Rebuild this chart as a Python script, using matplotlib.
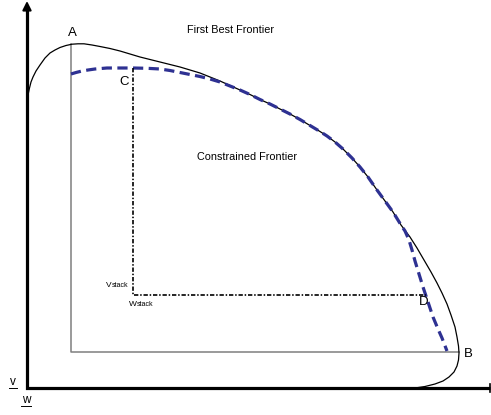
import matplotlib
matplotlib.use("Agg")
import matplotlib.pyplot as plt

plt.rcParams['font.family'] = ['Liberation Sans', 'DejaVu Sans']

# coordinates (x to the right, y downward)
first_best_x = [27.5, 28, 29.5, 31, 33, 36, 40, 45, 50, 55, 60, 66, 72, 78, 84,
                92, 100, 110, 120, 130, 140, 150, 160, 170, 180, 190, 200, 210,
                220, 230, 240, 250, 260, 270, 280, 290, 300, 310, 320, 327, 335,
                343, 352, 360, 368, 377, 385, 393, 401, 410, 417, 424, 431, 437,
                442, 447, 451, 455, 457, 458.5, 459, 458.5, 457, 454, 449, 443,
                435, 425, 415, 408]
first_best_y = [105, 95, 88, 82, 77, 71, 65, 58, 53, 50, 47.5, 45.5, 44.2, 43.8,
                43.8, 45, 46.5, 48.5, 51, 54, 57, 59.5, 62, 64.5, 67, 70, 73, 77,
                81, 85.5, 90, 94.5, 99.5, 104, 109, 114, 119.5, 125.5, 131.5, 136, 142,
                149, 158, 167, 177, 190, 201, 212, 225, 237, 248, 260, 272, 283,
                293, 304, 315, 327, 337, 346, 353, 360, 366, 372, 377, 381,
                384, 386.5, 388, 389]

constrained_x = [71, 76, 82, 88, 95, 107, 120, 133, 147, 160, 170, 180, 190, 200,
                 210, 220, 230, 240, 250, 260, 270, 280, 290, 300, 310, 320, 327,
                 335, 343, 352, 360, 368, 377, 385, 393, 401, 405, 409, 412, 415,
                 419, 423, 428, 433, 438, 442, 447]
constrained_y = [74, 72.5, 71, 70, 69, 68, 68, 68, 68.3, 69, 70.5, 72.5, 74.5, 76.5,
                 79, 82, 86, 90, 94.5, 99.5, 104, 109, 114, 119.5, 125.5, 131.5, 136,
                 142, 149, 158, 167, 177, 190, 201, 212, 225, 231, 240, 250, 261,
                 274, 287, 302, 317, 329, 338, 351]

# corner points of the boxes
A = (71, 44)
B = (459, 352)
origin = (71, 352)
C = (133, 68)
D = (426, 295)
stack = (133, 295)

axis_origin = (27, 388)
axis_top = 1
axis_right = 490

# underlined axis names and their positions
v_label = (13, 382)
w_label = (26, 400)

fig = plt.figure(figsize=(4.91, 4.15), dpi=100)
ax = fig.add_axes([0, 0, 1, 1])
ax.set_xlim(0, 491)
ax.set_ylim(415, 0)
ax.axis('off')

# main axes: one L-shaped stroke, arrow head on top, small bar at the right end
ax.plot([axis_origin[0], axis_origin[0], axis_right],
        [axis_top + 8, axis_origin[1], axis_origin[1]],
        color='black', lw=2.3, solid_joinstyle='miter', solid_capstyle='butt')
ax.annotate('', xy=(axis_origin[0], axis_top), xytext=(axis_origin[0], axis_top + 12),
            arrowprops=dict(arrowstyle='-|>', lw=1.5, color='black', mutation_scale=13,
                            shrinkA=0, shrinkB=0), annotation_clip=False)
ax.plot([axis_right, axis_right], [axis_origin[1] - 4, axis_origin[1] + 4],
        color='black', lw=1.2)

# gray box A - origin - B
ax.plot([A[0], origin[0], B[0]], [A[1], origin[1], B[1]], color='#7f7f7f', lw=1.1)

# frontiers
ax.plot(first_best_x, first_best_y, color='black', lw=0.9)
ax.plot(constrained_x, constrained_y, color='#2e3192', lw=2.3, dashes=(3.2, 1.7))

# dash-dot lines C - stack - D
ax.plot([C[0], stack[0], D[0]], [C[1], stack[1], D[1]], color='black', lw=1.2,
        dashes=(2.6, 1.1, 0.9, 1.1))

# labels
ax.text(72, 33, 'A', fontsize=9.5, ha='center', va='center')
ax.text(124, 82, 'C', fontsize=9.5, ha='center', va='center')
ax.text(424, 302, 'D', fontsize=9.5, ha='center', va='center')
ax.text(468, 354, 'B', fontsize=9.5, ha='center', va='center')
ax.text(187, 30, 'First Best Frontier', fontsize=7.8, ha='left', va='center')
ax.text(197, 157, 'Constrained Frontier', fontsize=7.8, ha='left', va='center')
ax.text(106, 285, 'V', fontsize=6, ha='left', va='center')
ax.text(112, 285.5, 'stack', fontsize=5, ha='left', va='center')
ax.text(129, 304, 'W', fontsize=6, ha='left', va='center')
ax.text(137, 304.5, 'stack', fontsize=5, ha='left', va='center')

for name, (lx, ly), half in [('v', v_label, 4), ('w', w_label, 5)]:
    ax.text(lx, ly, name, fontsize=8.5, ha='center', va='center')
    ax.plot([lx - half, lx + half], [ly + 6, ly + 6], color='black', lw=0.7)

fig.savefig('out.png', dpi=100)
